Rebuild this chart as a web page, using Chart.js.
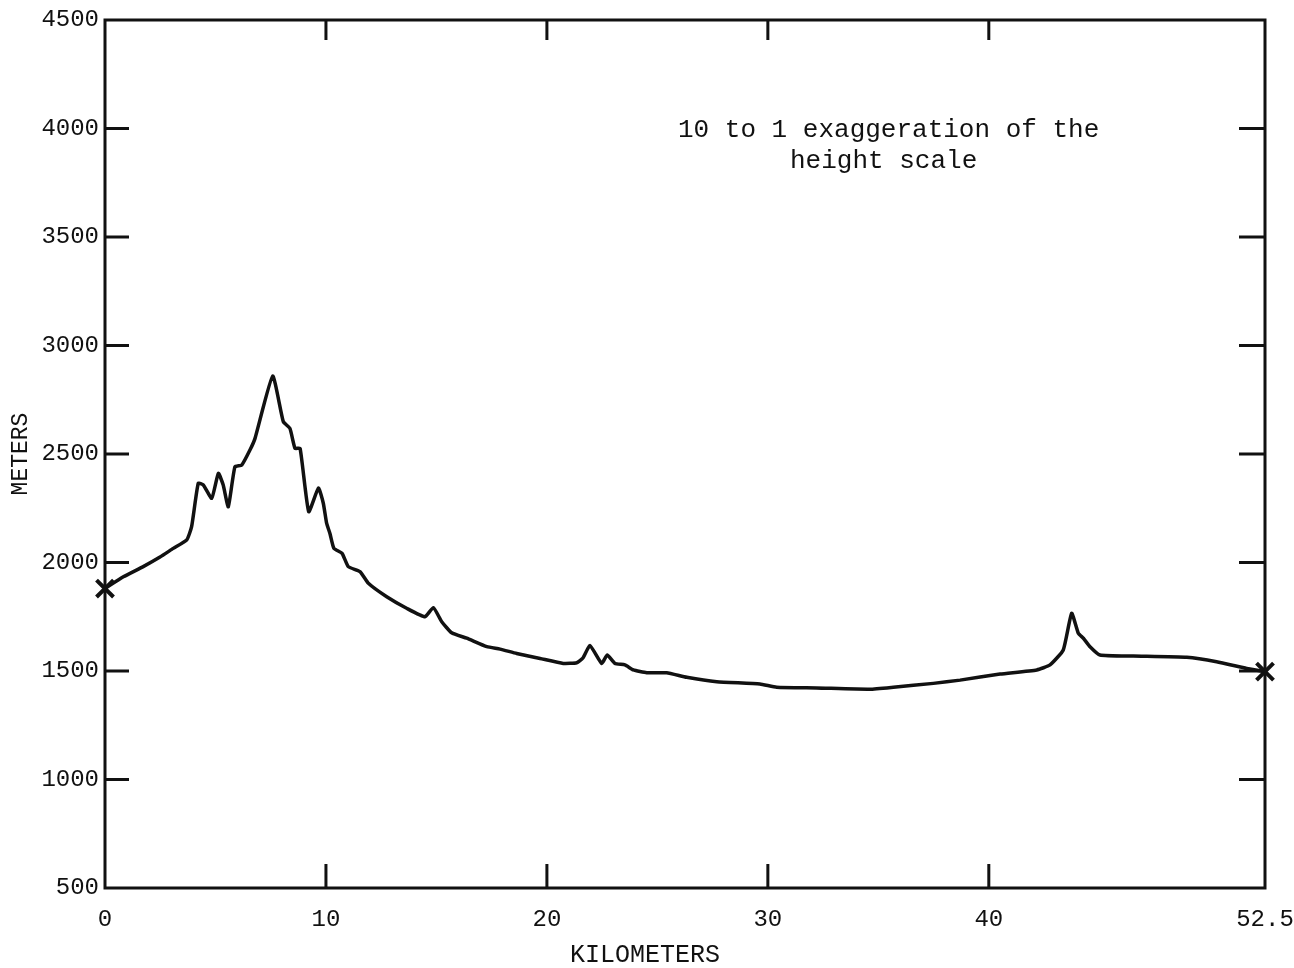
<!DOCTYPE html>
<html>
<head>
<meta charset="utf-8">
<title>Elevation profile</title>
<script src="https://cdn.jsdelivr.net/npm/chart.js@4.4.1/dist/chart.umd.min.js"></script>
<style>
  html, body { margin: 0; padding: 0; background: #fff; }
  #wrap { width: 1294px; height: 968px; }
</style>
</head>
<body>
<div id="wrap"><canvas id="profile"></canvas></div>
<script>
// profile samples: distance along the section (km) and ground height (m)
const distanceKm = [
  0.00, 0.83, 1.73, 2.49, 3.09, 3.70, 3.92, 4.22, 4.45, 4.83,
  5.13, 5.35, 5.58, 5.88, 6.19, 6.56, 6.79, 7.59, 8.07, 8.37,
  8.60, 8.83, 9.22, 9.66, 9.88, 10.03, 10.18, 10.36, 10.73, 11.01,
  11.54, 11.92, 12.75, 13.65, 14.48, 14.86, 15.24, 15.69, 16.37, 17.28,
  17.88, 18.63, 19.69, 20.74, 21.35, 21.63, 21.95, 22.48, 22.73, 23.08,
  23.53, 23.91, 24.52, 25.42, 26.33, 27.69, 29.64, 30.40, 32.21, 34.62,
  35.68, 37.49, 38.70, 40.51, 42.17, 42.77, 43.37, 43.75, 44.05, 44.28,
  44.58, 45.03, 46.54, 48.96, 50.31, 51.67, 52.50
];
const elevationM = [
  1880, 1934, 1981, 2025, 2065, 2104, 2165, 2365, 2357, 2296,
  2411, 2357, 2257, 2441, 2449, 2518, 2572, 2859, 2649, 2618,
  2526, 2526, 2234, 2343, 2273, 2181, 2134, 2065, 2042, 1981,
  1958, 1904, 1842, 1789, 1750, 1792, 1727, 1676, 1651, 1612,
  1601, 1581, 1558, 1535, 1538, 1560, 1617, 1535, 1574, 1535,
  1528, 1505, 1492, 1492, 1471, 1451, 1440, 1425, 1422, 1416,
  1425, 1443, 1458, 1486, 1505, 1528, 1597, 1766, 1674, 1651,
  1612, 1574, 1569, 1563, 1543, 1512, 1497
];

const xTicks = [0, 10, 20, 30, 40, 52.5];
const yTicks = [500, 1000, 1500, 2000, 2500, 3000, 3500, 4000, 4500];
const xInnerTicks = [10, 20, 30, 40];
const yInnerTicks = [1000, 1500, 2000, 2500, 3000, 3500, 4000];
const noteLines = ['10 to 1 exaggeration of the', 'height scale'];
const xTitle = 'KILOMETERS';

const INK = '#111';
const MONO = '"Liberation Mono", "DejaVu Sans Mono", monospace';

// box round the plot with short inward ticks on all four sides, plus the note
const frameAndTicks = {
  id: 'frameAndTicks',
  afterDraw(chart) {
    const { ctx, chartArea: a, scales } = chart;
    const x = scales.x, y = scales.y;
    ctx.save();
    ctx.strokeStyle = INK;
    ctx.lineWidth = 3;
    ctx.lineCap = 'square';
    ctx.strokeRect(a.left, a.top, a.right - a.left, a.bottom - a.top);

    ctx.lineCap = 'butt';
    ctx.beginPath();
    xInnerTicks.forEach(v => {
      const px = x.getPixelForValue(v);
      ctx.moveTo(px, a.top); ctx.lineTo(px, a.top + 20);
      ctx.moveTo(px, a.bottom); ctx.lineTo(px, a.bottom - 24);
    });
    yInnerTicks.forEach(v => {
      const py = y.getPixelForValue(v);
      ctx.moveTo(a.left, py); ctx.lineTo(a.left + 24, py);
      ctx.moveTo(a.right, py); ctx.lineTo(a.right - 26, py);
    });
    ctx.stroke();

    ctx.fillStyle = INK;
    ctx.font = '26px ' + MONO;
    ctx.textAlign = 'left';
    ctx.textBaseline = 'middle';
    ctx.fillText(noteLines[0], 678, 130);
    ctx.fillText(noteLines[1], 790, 161);

    // axis title sits a little left of the plot centre
    ctx.font = '25px ' + MONO;
    ctx.textAlign = 'center';
    ctx.fillText(xTitle, 645, 955);
    ctx.restore();
  }
};

const ctx = document.getElementById('profile').getContext('2d');

new Chart(ctx, {
  type: 'line',
  data: {
    datasets: [{
      data: distanceKm.map((d, i) => ({ x: d, y: elevationM[i] })),
      borderColor: INK,
      borderWidth: 3.5,
      tension: 0.15,
      fill: false,
      clip: false,
      // end stations are marked with an X
      pointStyle: 'crossRot',
      pointRadius: c => (c.dataIndex === 0 || c.dataIndex === distanceKm.length - 1) ? 12 : 0,
      pointBorderWidth: 4,
      pointBorderColor: INK,
      pointHoverRadius: 0
    }]
  },
  options: {
    responsive: true,
    maintainAspectRatio: false,
    animation: false,
    events: [],
    layout: { padding: { top: 20, right: 29, left: 0, bottom: 0 } },
    plugins: {
      legend: { display: false },
      tooltip: { enabled: false }
    },
    scales: {
      x: {
        type: 'linear',
        min: 0,
        max: 52.5,
        grid: { display: false, drawTicks: false },
        border: { display: false },
        afterBuildTicks: s => { s.ticks = xTicks.map(v => ({ value: v })); },
        afterFit: s => {
          s.height = 80;
          s.paddingLeft = s.paddingRight = s.paddingTop = s.paddingBottom = 0;
        },
        ticks: {
          padding: 17,
          maxRotation: 0,
          autoSkip: false,
          color: INK,
          font: { family: MONO, size: 24 },
          callback: v => String(v)
        }
      },
      y: {
        min: 500,
        max: 4500,
        grid: { display: false, drawTicks: false },
        border: { display: false },
        afterBuildTicks: s => { s.ticks = yTicks.map(v => ({ value: v })); },
        afterFit: s => {
          s.width = 105;
          s.paddingLeft = s.paddingRight = s.paddingTop = s.paddingBottom = 0;
        },
        ticks: {
          padding: 6,
          color: INK,
          font: { family: MONO, size: 24 },
          callback: v => String(v)
        },
        title: {
          display: true,
          text: 'METERS',
          color: INK,
          font: { family: MONO, size: 23 },
          padding: { top: 7, bottom: 0 }
        }
      }
    }
  },
  plugins: [frameAndTicks]
});
</script>
</body>
</html>
